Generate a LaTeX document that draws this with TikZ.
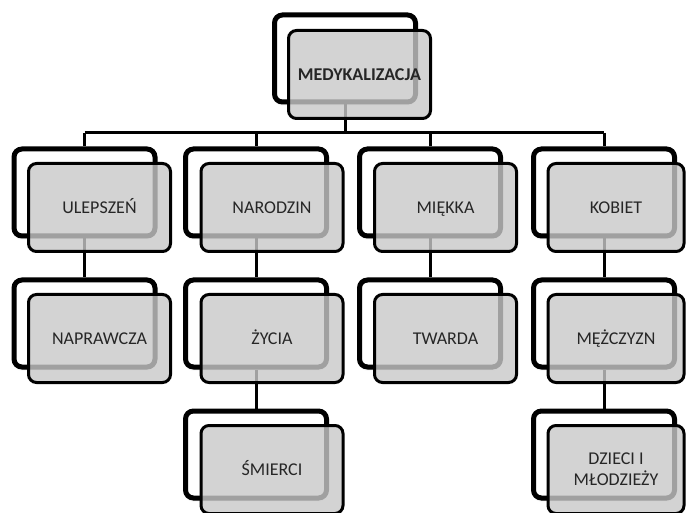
\documentclass[tikz,border=0pt]{standalone}
\usepackage{fontspec}
\setmainfont{Carlito}
\usetikzlibrary{shadows.blur}
\pgfdeclarelayer{bg}
\pgfsetlayers{bg,main}
\definecolor{boxgray}{HTML}{C8C8C8}
\definecolor{ink}{HTML}{262626}
\tikzset{
  backbox/.style={draw=black, line width=5pt, fill=white, rounded corners=8pt,
    minimum width=141pt, minimum height=87pt, inner sep=0pt,
    blur shadow={shadow xshift=0pt, shadow yshift=-2pt, shadow blur steps=6, shadow opacity=25}},
  frontbox/.style={draw=black, line width=3pt, fill=boxgray, fill opacity=0.8, draw opacity=1,
    text opacity=1, text=ink, rounded corners=8pt,
    minimum width=142pt, minimum height=88pt, inner sep=0pt,
    text height=11.5pt, text depth=0pt,
    font=\fontsize{18}{20}\selectfont},
  link/.style={draw=black, line width=3pt},
}
\begin{document}
\begin{tikzpicture}[x=1pt, y=-1pt]
\useasboundingbox (0,0) rectangle (686,513);
\begin{scope}
\clip (0,0) rectangle (686,513);
% root
\node[backbox] (rootB) at (345,58.5) {};
\node[frontbox, font=\fontsize{18}{20}\selectfont\bfseries] (root) at (359.5,74.5) {MEDYKALIZACJA};
% first row
\node[backbox] (c1B) at (84.5,192.5) {};
\node[frontbox] (c1) at (99.5,207.5) {ULEPSZEŃ};
\node[backbox] (c2B) at (256,192.5) {};
\node[frontbox] (c2) at (272,207.5) {NARODZIN};
\node[backbox] (c3B) at (430,192.5) {};
\node[frontbox] (c3) at (445.5,207.5) {MIĘKKA};
\node[backbox] (c4B) at (604,192.5) {};
\node[frontbox, minimum width=136pt] (c4) at (616,207.5) {KOBIET};
% second row
\node[backbox] (d1B) at (84.5,323.5) {};
\node[frontbox] (d1) at (99.5,338.5) {NAPRAWCZA};
\node[backbox] (d2B) at (256,323.5) {};
\node[frontbox] (d2) at (272,338.5) {ŻYCIA};
\node[backbox] (d3B) at (430,323.5) {};
\node[frontbox] (d3) at (445.5,338.5) {TWARDA};
\node[backbox] (d4B) at (604,323.5) {};
\node[frontbox, minimum width=136pt] (d4) at (616,338.5) {MĘŻCZYZN};
% third row
\node[backbox] (e2B) at (256,454.5) {};
\node[frontbox] (e2) at (272,469.5) {ŚMIERCI};
\node[backbox] (e4B) at (604,454.5) {};
\node[frontbox, minimum width=136pt] (e4) at (616,469.5)
  {\raisebox{-10pt}{\begin{tabular}[b]{@{}c@{}}DZIECI I\\ MŁODZIEŻY\end{tabular}}};
% connectors behind the boxes
\begin{pgfonlayer}{bg}
\coordinate (bus) at (345,133);
\draw[link] (rootB.south) -- (rootB.south |- bus);
\draw[link] (c1B.north |- bus) -- (c4B.north |- bus);
\foreach \n in {c1B,c2B,c3B,c4B}
  \draw[link] (\n.north |- bus) -- (\n.north);
\draw[link] (c1B.south) -- (d1B.north);
\draw[link] (c2B.south) -- (d2B.north);
\draw[link] (c3B.south) -- (d3B.north);
\draw[link] (c4B.south) -- (d4B.north);
\draw[link] (d2B.south) -- (e2B.north);
\draw[link] (d4B.south) -- (e4B.north);
\end{pgfonlayer}
\end{scope}
\end{tikzpicture}
\end{document}
